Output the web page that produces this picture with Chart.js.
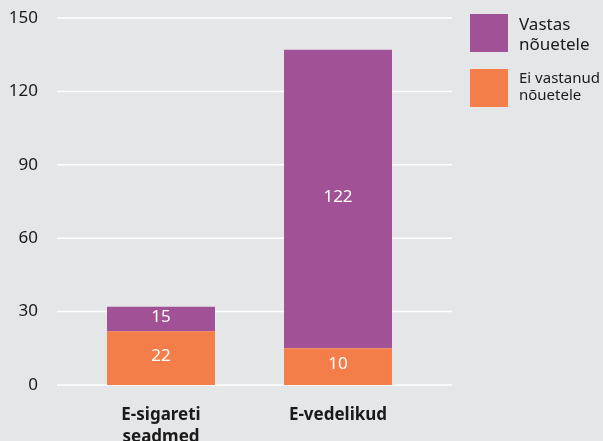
<!DOCTYPE html>
<html>
<head>
<meta charset="utf-8">
<script src="https://cdn.jsdelivr.net/npm/chart.js@4.4.1/dist/chart.umd.min.js"></script>
<style>
html, body { margin: 0; padding: 0; background: #e5e6e8; }
#wrap { position: relative; width: 603px; height: 441px; overflow: hidden; }
#legend { position: absolute; left: 470px; top: 0; font-family: "Noto Sans", sans-serif; color: #1a1a1a; }
.item { position: absolute; left: 0; white-space: nowrap; }
.box { position: absolute; left: 0; top: 0; width: 38px; height: 38px; }
.txt { position: absolute; left: 49px; top: 0; }
</style>
</head>
<body>
<div id="wrap">
  <canvas id="myChart" width="603" height="441"></canvas>
  <div id="legend"></div>
</div>
<script>
// categories
let categories = [["E-sigareti", "seadmed"], "E-vedelikud"];
// bar heights as drawn in the picture
let eiVastanud = [22, 15];
let vastas = [10, 122];
// numbers printed on the bars
let eiVastanudLabels = ["22", "10"];
let vastasLabels = ["15", "122"];
// y axis
let yMin = 0, yMax = 150, yStep = 30;

let purple = '#a15195';
let orange = '#f47e4a';

// horizontal white lines, wider than the plot area
let gridPlugin = {
    id: 'wideGrid',
    beforeDatasetsDraw(chart) {
        let ctx = chart.ctx;
        let y = chart.scales.y;
        ctx.save();
        ctx.strokeStyle = '#ffffff';
        ctx.lineWidth = 1.5;
        y.ticks.forEach(t => {
            let py = y.getPixelForValue(t.value);
            ctx.beginPath();
            ctx.moveTo(57, py);
            ctx.lineTo(452, py);
            ctx.stroke();
        });
        ctx.restore();
    }
};

// white numbers inside each segment
let labelPlugin = {
    id: 'segLabels',
    afterDatasetsDraw(chart) {
        let ctx = chart.ctx;
        ctx.save();
        ctx.fillStyle = '#ffffff';
        ctx.font = '17px "Noto Sans"';
        ctx.textAlign = 'center';
        ctx.textBaseline = 'middle';
        chart.data.datasets.forEach((ds, i) => {
            let meta = chart.getDatasetMeta(i);
            meta.data.forEach((bar, j) => {
                let mid = (bar.y + bar.base) / 2 - 2;
                ctx.fillText(ds.texts[j], bar.x, mid);
            });
        });
        ctx.restore();
    }
};

let ctx = document.getElementById('myChart').getContext('2d');
let chart = new Chart(ctx, {
    type: 'bar',
    data: {
        labels: categories,
        datasets: [
            { label: ['Ei vastanud', 'nõuetele'], data: eiVastanud, texts: eiVastanudLabels, backgroundColor: orange },
            { label: ['Vastas', 'nõuetele'], data: vastas, texts: vastasLabels, backgroundColor: purple }
        ]
    },
    options: {
        responsive: false,
        animation: false,
        layout: { padding: { top: 18, right: 176.5, bottom: 0, left: 0 } },
        datasets: { bar: { categoryPercentage: 1, barPercentage: 0.61 } },
        plugins: { legend: { display: false }, tooltip: { enabled: false } },
        scales: {
            x: {
                stacked: true,
                grid: { display: false, drawTicks: false },
                border: { display: false },
                ticks: { color: '#1a1a1a', font: { family: 'Noto Sans', size: 17, weight: 'bold', lineHeight: 1.25 }, padding: 20, maxRotation: 0 },
                afterFit(scale) { scale.height = 56; }
            },
            y: {
                stacked: true,
                min: yMin, max: yMax,
                grid: { display: false, drawTicks: false },
                border: { display: false },
                ticks: { stepSize: yStep, color: '#1a1a1a', font: { family: 'Noto Sans', size: 17 }, padding: 34.5 },
                afterFit(scale) {
                    scale.width = 72.5;
                    scale.paddingTop = 0;
                    scale.paddingBottom = 0;
                }
            }
        }
    },
    plugins: [gridPlugin, labelPlugin]
});

// legend, purple first
function buildLegend() {
    let legend = document.getElementById('legend');
    let items = [
        { ds: chart.data.datasets[1], top: 14, size: 17, lh: 20 },
        { ds: chart.data.datasets[0], top: 69, size: 15, lh: 17 }
    ];
    items.forEach(it => {
        let div = document.createElement('div');
        div.className = 'item';
        div.style.top = it.top + 'px';
        let box = document.createElement('div');
        box.className = 'box';
        box.style.background = it.ds.backgroundColor;
        let txt = document.createElement('div');
        txt.className = 'txt';
        txt.style.fontSize = it.size + 'px';
        txt.style.lineHeight = it.lh + 'px';
        txt.innerHTML = it.ds.label.join('<br>');
        div.appendChild(box);
        div.appendChild(txt);
        legend.appendChild(div);
    });
}
buildLegend();
</script>
</body>
</html>
